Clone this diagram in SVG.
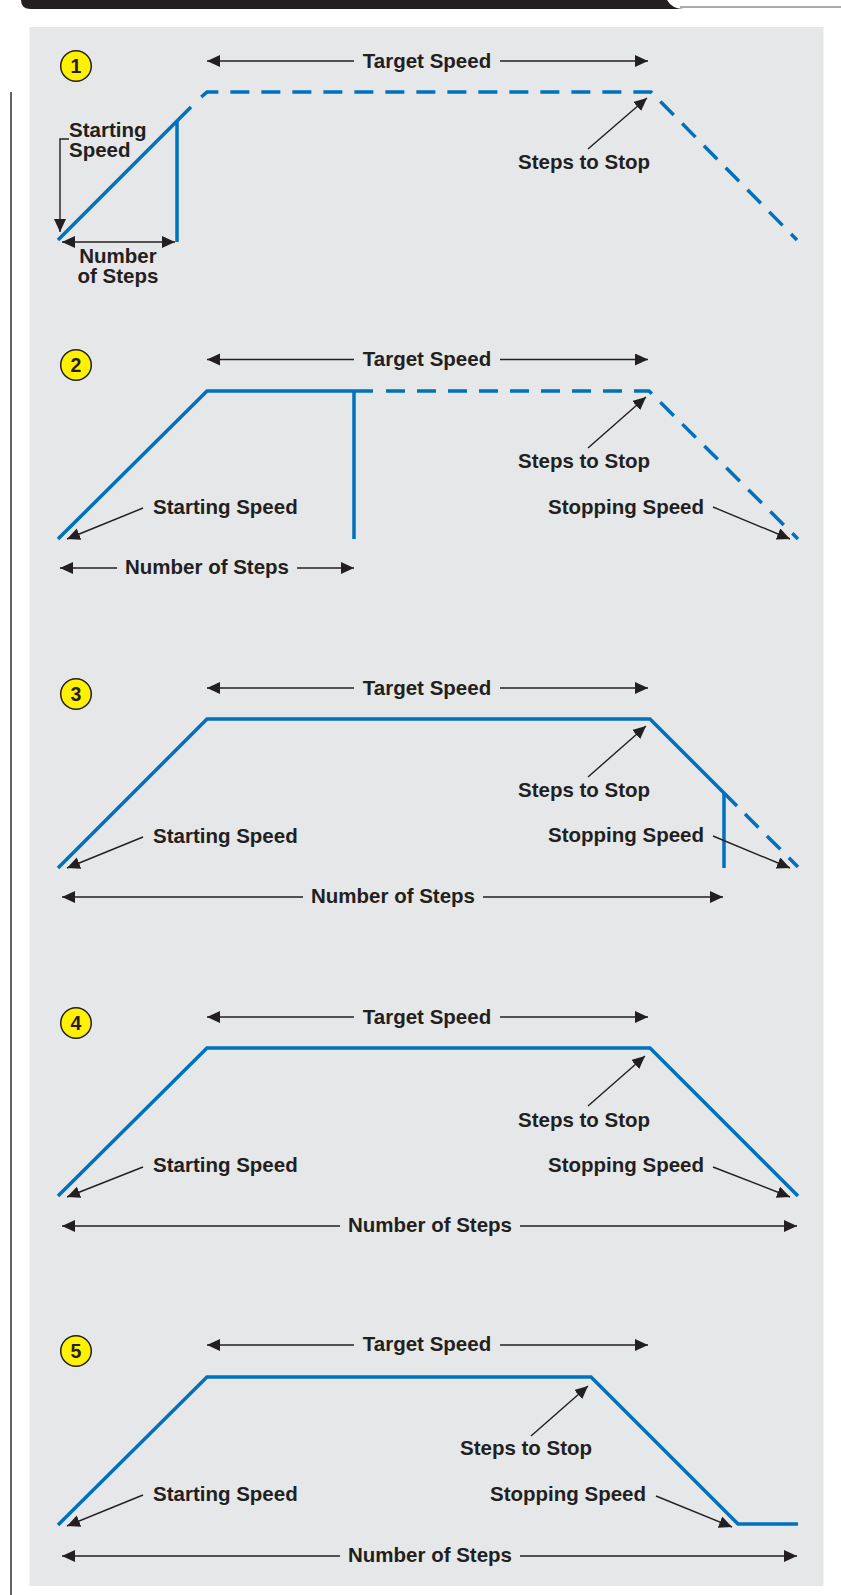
<svg xmlns="http://www.w3.org/2000/svg" width="841" height="1595" viewBox="0 0 841 1595">
<defs>
<marker id="ah" markerUnits="userSpaceOnUse" markerWidth="14" markerHeight="13" refX="13" refY="6" orient="auto-start-reverse" viewBox="0 0 14 13">
<path d="M0,0 L13,6 L0,12 Z" fill="#231F20"/>
</marker>
<style>
.t{font-family:"Liberation Sans",Arial,sans-serif;font-weight:bold;font-size:20.5px;fill:#231F20}
.tm{text-anchor:middle}
.n{font-family:"Liberation Sans",Arial,sans-serif;font-weight:bold;font-size:19.5px;fill:#231F20;text-anchor:middle}
.c{fill:#FFF200;stroke:#231F20;stroke-width:1.5}
.b{fill:none;stroke:#0071BC;stroke-width:3.5;stroke-linejoin:miter}
.d{fill:none;stroke:#0071BC;stroke-width:3.5;stroke-dasharray:19 12}
.a{fill:none;stroke:#231F20;stroke-width:1.4}
.ae{marker-end:url(#ah)}
.as{marker-start:url(#ah)}
</style>
</defs>
<rect x="0" y="0" width="841" height="1595" fill="#FFFFFF"/>
<path d="M21,0 H667 Q672,9 684,9 H31 Q21,9 21,0 Z" fill="#231F20"/>
<line x1="680" y1="7" x2="841" y2="7" stroke="#555" stroke-width="1"/>
<rect x="29.5" y="27" width="794" height="1559" fill="#E6E7E8"/>
<line x1="11" y1="92" x2="11" y2="1595" stroke="#231F20" stroke-width="1.4"/>

<g id="diagram1">
<circle class="c" cx="76" cy="66" r="15.3"/>
<text class="n" x="76" y="73">1</text>
<path class="b" d="M58,240 L191,107"/>
<path class="b" d="M177,121 V242"/>
<path class="d" stroke-dashoffset="-3" d="M199,99 L207,92 L651,92 L797,240"/>
</g>
<g id="diagram2">
<circle class="c" cx="76" cy="365" r="15.3"/>
<text class="n" x="76" y="372">2</text>
<path class="b" d="M58,539 L207,391 L373,391"/>
<path class="b" d="M354,391 V539"/>
<path class="d" d="M386,391 L649,391 L798,539"/>
</g>
<g id="diagram3">
<circle class="c" cx="76" cy="694" r="15.3"/>
<text class="n" x="76" y="701">3</text>
<path class="b" d="M58,868 L207,719 L650,719 L737,806"/>
<path class="b" d="M724,793 V868"/>
<path class="d" d="M745,814 L798,867"/>
</g>
<g id="diagram4">
<circle class="c" cx="76" cy="1023" r="15.3"/>
<text class="n" x="76" y="1030">4</text>
<path class="b" d="M58,1196 L207,1048 L650,1048 L798,1196"/>
</g>
<g id="diagram5">
<circle class="c" cx="76" cy="1351" r="15.3"/>
<text class="n" x="76" y="1358">5</text>
<path class="b" d="M58,1525 L207,1377 L591,1377 L738,1524 L798,1524"/>
</g>

<g id="labels">
<text class="t tm" x="427" y="67.5">Target Speed</text>
<text class="t" x="69" y="136.5">Starting</text>
<text class="t" x="69" y="157">Speed</text>
<text class="t tm" x="118" y="263">Number</text>
<text class="t tm" x="118" y="283">of Steps</text>
<text class="t" x="518" y="169">Steps to Stop</text>
<text class="t tm" x="427" y="366">Target Speed</text>
<text class="t" x="153" y="514">Starting Speed</text>
<text class="t tm" x="207" y="574">Number of Steps</text>
<text class="t" x="518" y="468">Steps to Stop</text>
<text class="t" x="548" y="513.5">Stopping Speed</text>
<text class="t tm" x="427" y="694.5">Target Speed</text>
<text class="t" x="153" y="843">Starting Speed</text>
<text class="t tm" x="393" y="903">Number of Steps</text>
<text class="t" x="518" y="797">Steps to Stop</text>
<text class="t" x="548" y="842">Stopping Speed</text>
<text class="t tm" x="427" y="1023.5">Target Speed</text>
<text class="t" x="153" y="1172">Starting Speed</text>
<text class="t tm" x="430" y="1232">Number of Steps</text>
<text class="t" x="518" y="1127">Steps to Stop</text>
<text class="t" x="548" y="1172">Stopping Speed</text>
<text class="t tm" x="427" y="1351">Target Speed</text>
<text class="t" x="153" y="1501">Starting Speed</text>
<text class="t tm" x="430" y="1562">Number of Steps</text>
<text class="t" x="460" y="1455">Steps to Stop</text>
<text class="t" x="490" y="1501">Stopping Speed</text>
</g>

<g id="connectors">
<path class="a as" d="M207,61 H354"/>
<path class="a ae" d="M500,61 H648"/>
<path class="a ae" d="M69,139 H60 V232"/>
<path class="a as ae" d="M62,242 H175"/>
<path class="a ae" d="M588,149 L647,98"/>
<path class="a as" d="M207,359.5 H354"/>
<path class="a ae" d="M500,359.5 H648"/>
<path class="a ae" d="M143,508 L67,539"/>
<path class="a as" d="M60,568 H117"/>
<path class="a ae" d="M297,568 H354"/>
<path class="a ae" d="M588,448 L646,397"/>
<path class="a ae" d="M713,507 L790,539"/>
<path class="a as" d="M207,688 H354"/>
<path class="a ae" d="M500,688 H648"/>
<path class="a ae" d="M143,837 L67,868"/>
<path class="a as" d="M62,897 H303"/>
<path class="a ae" d="M483,897 H723"/>
<path class="a ae" d="M588,777 L646,726"/>
<path class="a ae" d="M713,836 L790,868"/>
<path class="a as" d="M207,1017 H354"/>
<path class="a ae" d="M500,1017 H648"/>
<path class="a ae" d="M143,1167 L67,1197"/>
<path class="a as" d="M62,1226 H340"/>
<path class="a ae" d="M520,1226 H797"/>
<path class="a ae" d="M588,1106 L645,1056"/>
<path class="a ae" d="M713,1167 L790,1197"/>
<path class="a as" d="M207,1345 H354"/>
<path class="a ae" d="M500,1345 H648"/>
<path class="a ae" d="M143,1495 L67,1526"/>
<path class="a as" d="M62,1556 H340"/>
<path class="a ae" d="M520,1556 H797"/>
<path class="a ae" d="M531,1436 L588,1386"/>
<path class="a ae" d="M656,1496 L732,1527"/>
</g>
</svg>
